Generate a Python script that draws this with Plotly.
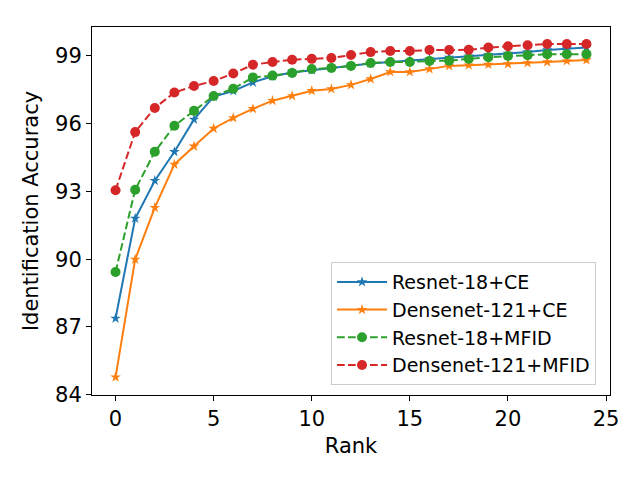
import plotly.graph_objects as go

# Rank 0..24
rank = list(range(25))

resnet_ce = [87.38, 91.80, 93.47, 94.75, 96.18, 97.19, 97.44, 97.82, 98.09, 98.26,
             98.36, 98.46, 98.56, 98.66, 98.72, 98.78, 98.84, 98.92, 98.98, 99.04,
             99.10, 99.16, 99.25, 99.32, 99.36]
densenet_ce = [84.78, 89.99, 92.28, 94.19, 94.99, 95.78, 96.25, 96.65, 97.01, 97.22,
               97.45, 97.53, 97.71, 97.97, 98.28, 98.28, 98.41, 98.55, 98.58, 98.61,
               98.63, 98.68, 98.72, 98.77, 98.81]
resnet_mfid = [89.43, 93.07, 94.75, 95.90, 96.56, 97.22, 97.54, 98.04, 98.12, 98.24,
               98.41, 98.46, 98.55, 98.68, 98.72, 98.72, 98.77, 98.78, 98.86, 98.93,
               98.99, 99.02, 99.07, 99.07, 99.07]
densenet_mfid = [93.05, 95.62, 96.69, 97.37, 97.66, 97.88, 98.21, 98.60, 98.72, 98.82,
                 98.86, 98.90, 99.03, 99.16, 99.21, 99.21, 99.25, 99.25, 99.26, 99.36,
                 99.42, 99.46, 99.52, 99.52, 99.52]

y_ticks = [84, 87, 90, 93, 96, 99]
x_ticks = [0, 5, 10, 15, 20, 25]

series = [
    ("Resnet-18+CE", resnet_ce, "#1f77b4", "solid", "star", 8),
    ("Densenet-121+CE", densenet_ce, "#ff7f0e", "solid", "star", 8),
    ("Resnet-18+MFID", resnet_mfid, "#2ca02c", "7.7px,3.3px", "circle", 10),
    ("Densenet-121+MFID", densenet_mfid, "#d62728", "7.7px,3.3px", "circle", 10),
]

fig = go.Figure()
for name, vals, color, dash, symbol, msize in series:
    fig.add_trace(go.Scatter(
        x=rank, y=vals, name=name, mode="lines+markers",
        line=dict(color=color, width=2, dash=dash),
        marker=dict(symbol=symbol, size=msize, color=color, line=dict(width=0)),
    ))

axis_common = dict(
    showline=True, linecolor="black", linewidth=1.1, mirror=True,
    ticks="outside", ticklen=5, tickwidth=1.1, tickcolor="black",
    showgrid=False, zeroline=False, automargin=False,
    tickfont=dict(size=21, color="black"),
)

# page body adds 8px offset, margins compensate for it
fig.update_layout(
    width=640, height=480,
    margin=dict(l=84, r=38, t=19, b=93),
    plot_bgcolor="white", paper_bgcolor="white",
    font=dict(family="DejaVu Sans", color="black"),
    showlegend=True,
    legend=dict(
        x=0.973, y=0.027, xanchor="right", yanchor="bottom",
        bgcolor="rgba(255,255,255,0.8)", bordercolor="#cccccc", borderwidth=1,
        font=dict(size=19, color="black"), itemwidth=50,
    ),
    xaxis=dict(axis_common, range=[-1.2, 25.2], tickvals=x_ticks,
               title=dict(text="Rank", font=dict(size=21), standoff=8)),
    yaxis=dict(axis_common, range=[83.99, 100.27], tickvals=y_ticks,
               title=dict(text="Identification Accuracy", font=dict(size=21), standoff=10)),
)

fig.write_html("out.html")
